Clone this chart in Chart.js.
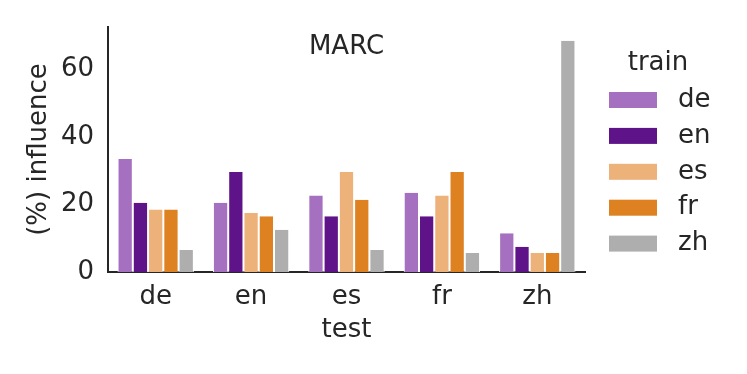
<!DOCTYPE html>
<html>
<head>
<meta charset="utf-8">
<script src="https://cdn.jsdelivr.net/npm/chart.js@4/dist/chart.umd.min.js"></script>
<style>
  body { margin: 0; background: #fff; }
  canvas { display: block; }
</style>
</head>
<body>
<canvas id="chart" width="747" height="374"></canvas>
<script>
// test languages (x categories)
const testLangs = ['de', 'en', 'es', 'fr', 'zh'];

// % influence per train language, one value per test language
const trainDe = [33.5, 20.5, 22.7, 23.5, 11.5];
const trainEn = [20.5, 29.6, 16.5, 16.5, 7.5];
const trainEs = [18.5, 17.5, 29.6, 22.7, 5.6];
const trainFr = [18.5, 16.5, 21.4, 29.6, 5.6];
const trainZh = [6.5, 12.5, 6.5, 5.6, 68.5];

const yTicks = [0, 20, 40, 60];

const textColor = '#262626';
const fontFamily = '"DejaVu Sans", sans-serif';
const FS = 26;

const series = [
    { label: 'de', data: trainDe, color: '#a470bf' },
    { label: 'en', data: trainEn, color: '#5e1389' },
    { label: 'es', data: trainEs, color: '#edb17a' },
    { label: 'fr', data: trainFr, color: '#de8121' },
    { label: 'zh', data: trainZh, color: '#aeaeae' }
];

// Title drawn inside the plot area, like the original
const innerTitle = {
    id: 'innerTitle',
    afterDraw(chart) {
        const { ctx, chartArea } = chart;
        ctx.save();
        ctx.fillStyle = textColor;
        ctx.font = `${FS}px ${fontFamily}`;
        ctx.textAlign = 'center';
        ctx.textBaseline = 'middle';
        ctx.fillText('MARC', (chartArea.left + chartArea.right) / 2, 47);
        ctx.restore();
    }
};

// Legend with title "train" on the right side
const sideLegend = {
    id: 'sideLegend',
    afterDraw(chart) {
        const { ctx, chartArea } = chart;
        const boxX = chartArea.right + 24;
        ctx.save();
        ctx.font = `${FS}px ${fontFamily}`;
        ctx.fillStyle = textColor;
        ctx.textAlign = 'center';
        ctx.textBaseline = 'middle';
        ctx.fillText('train', boxX + 49, 63);
        ctx.textAlign = 'left';
        chart.data.datasets.forEach((ds, i) => {
            const cy = 100 + i * 35.9;
            ctx.fillStyle = ds.backgroundColor;
            ctx.fillRect(boxX, cy - 8, 48, 16);
            ctx.fillStyle = textColor;
            ctx.fillText(ds.label, boxX + 69, cy);
        });
        ctx.restore();
    }
};

new Chart(document.getElementById('chart'), {
    type: 'bar',
    data: {
        labels: testLangs,
        datasets: series.map(s => ({
            label: s.label,
            data: s.data,
            backgroundColor: s.color,
            borderColor: '#ffffff',
            borderWidth: { left: 1, right: 1, top: 0, bottom: 0 },
            barPercentage: 1,
            categoryPercentage: 0.8
        }))
    },
    options: {
        responsive: false,
        animation: false,
        layout: { padding: { left: 0, right: 162, top: 27, bottom: 0 } },
        plugins: {
            legend: { display: false },
            tooltip: { enabled: false }
        },
        scales: {
            x: {
                grid: { display: false, drawTicks: false },
                border: { display: true, color: textColor, width: 2 },
                ticks: { color: textColor, font: { family: fontFamily, size: FS }, padding: 10 },
                title: {
                    display: true, text: 'test', color: textColor,
                    font: { family: fontFamily, size: FS },
                    padding: { top: 0, bottom: 28 }
                },
                afterFit(scale) {
                    scale.height = 102;
                    scale.paddingLeft = 0;
                    scale.paddingRight = 0;
                }
            },
            y: {
                min: 0,
                max: 72.6,
                grid: { display: false, drawTicks: false },
                border: { display: true, color: textColor, width: 2 },
                ticks: { color: textColor, font: { family: fontFamily, size: FS }, padding: 14, stepSize: 20 },
                afterBuildTicks(scale) {
                    scale.ticks = yTicks.map(v => ({ value: v }));
                },
                title: {
                    display: true, text: '(%) influence', color: textColor,
                    font: { family: fontFamily, size: FS },
                    padding: { top: 24, bottom: 0 }
                },
                afterFit(scale) {
                    scale.width = 108;
                    scale.paddingTop = 0;
                    scale.paddingBottom = 0;
                }
            }
        }
    },
    plugins: [innerTitle, sideLegend]
});
</script>
</body>
</html>
